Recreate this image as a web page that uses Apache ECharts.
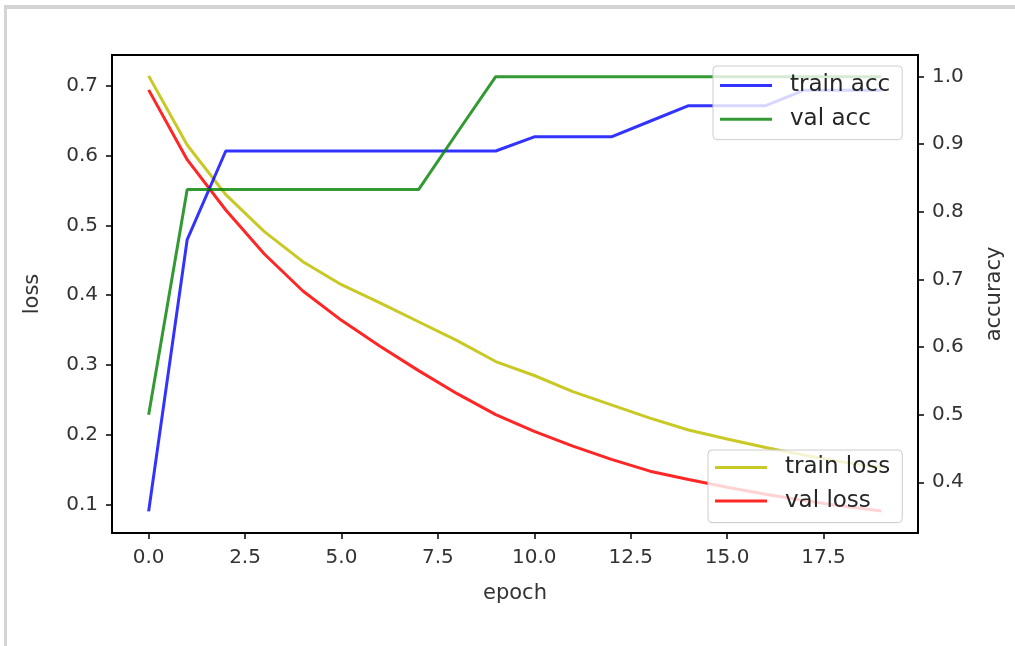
<!DOCTYPE html>
<html>
<head>
<meta charset="utf-8">
<script src="https://cdn.jsdelivr.net/npm/echarts@6/dist/echarts.min.js"></script>
<style>
  html, body { margin: 0; padding: 0; background: #fff; }
  #frame { position: absolute; left: 4px; top: 5px; width: 1015px; height: 646px;
           border-top: 4px solid #d4d4d4; border-left: 3px solid #d4d4d4; box-sizing: border-box; }
  #chart { position: absolute; left: 0; top: 0; width: 1015px; height: 646px; }
</style>
</head>
<body>
<div id="frame"></div>
<div id="chart"></div>
<script>
// ---- data ----
const epochs = [0, 1, 2, 3, 4, 5, 6, 7, 8, 9, 10, 11, 12, 13, 14, 15, 16, 17, 18, 19];
const trainLoss = [0.714, 0.615, 0.544, 0.491, 0.448, 0.415, 0.389, 0.362, 0.335, 0.305,
                   0.285, 0.262, 0.243, 0.224, 0.207, 0.194, 0.182, 0.171, 0.161, 0.153];
const valLoss = [0.694, 0.594, 0.522, 0.459, 0.406, 0.364, 0.327, 0.292, 0.259, 0.229,
                 0.205, 0.184, 0.165, 0.148, 0.136, 0.125, 0.115, 0.106, 0.098, 0.091];
const trainAcc = [0.357, 0.759, 0.890, 0.890, 0.890, 0.890, 0.890, 0.890, 0.890, 0.890,
                  0.911, 0.911, 0.911, 0.934, 0.957, 0.957, 0.957, 0.980, 0.980, 0.980];
const valAcc = [0.500, 0.833, 0.833, 0.833, 0.833, 0.833, 0.833, 0.833, 0.917, 1.000,
                1.000, 1.000, 1.000, 1.000, 1.000, 1.000, 1.000, 1.000, 1.000, 1.000];
const xTicks = [0, 2.5, 5, 7.5, 10, 12.5, 15, 17.5];
const lossTicks = [0.1, 0.2, 0.3, 0.4, 0.5, 0.6, 0.7];
const accTicks = [0.4, 0.5, 0.6, 0.7, 0.8, 0.9, 1.0];

const pairs = arr => epochs.map((e, i) => [e, arr[i]]);

const FONT = '"DejaVu Sans", sans-serif';
const axisColor = '#000';
const tickLabel = { fontFamily: FONT, fontSize: 20, color: '#333' };

const chart = echarts.init(document.getElementById('chart'), null, { renderer: 'canvas' });

const lineSeries = (name, arr, color, yIdx) => ({
  name, type: 'line', yAxisIndex: yIdx, data: pairs(arr),
  symbol: 'none', showSymbol: false, smooth: false, animation: false,
  lineStyle: { color, width: 3 }, itemStyle: { color }
});

chart.setOption({
  animation: false,
  grid: { left: 112, right: 97, top: 55, bottom: 113, show: true,
          borderColor: '#000', borderWidth: 2, containLabel: false },
  xAxis: {
    type: 'value', min: -0.95, max: 19.95,
    name: 'epoch', nameLocation: 'middle', nameGap: 50,
    nameTextStyle: { fontFamily: FONT, fontSize: 21, color: '#333' },
    axisLine: { show: true, onZero: false, lineStyle: { color: axisColor, width: 2 } },
    axisTick: { show: true, length: 6, customValues: xTicks, lineStyle: { color: axisColor, width: 1.5 } },
    axisLabel: { ...tickLabel, margin: 15, customValues: xTicks,
                 formatter: v => Number(v).toFixed(1) },
    splitLine: { show: false }
  },
  yAxis: [
    {
      type: 'value', min: 0.0595, max: 0.7439, position: 'left',
      name: 'loss', nameLocation: 'middle', nameGap: 69, nameRotate: 90,
      nameTextStyle: { fontFamily: FONT, fontSize: 21, color: '#333' },
      axisLine: { show: true, onZero: false, lineStyle: { color: axisColor, width: 2 } },
      axisTick: { show: true, length: 6, customValues: lossTicks, lineStyle: { color: axisColor, width: 1.5 } },
      axisLabel: { ...tickLabel, margin: 14, customValues: lossTicks,
                   formatter: v => Number(v).toFixed(1) },
      splitLine: { show: false }
    },
    {
      type: 'value', min: 0.325, max: 1.032, position: 'right',
      name: 'accuracy', nameLocation: 'middle', nameGap: 66, nameRotate: 90,
      nameTextStyle: { fontFamily: FONT, fontSize: 21, color: '#333' },
      axisLine: { show: true, onZero: false, lineStyle: { color: axisColor, width: 2 } },
      axisTick: { show: true, length: 6, customValues: accTicks, lineStyle: { color: axisColor, width: 1.5 } },
      axisLabel: { ...tickLabel, margin: 14, customValues: accTicks,
                   formatter: v => Number(v).toFixed(1) },
      splitLine: { show: false }
    }
  ],
  legend: [
    {
      data: ['train acc', 'val acc'], orient: 'vertical',
      left: 713, top: 66, padding: [8, 12, 9, 7], itemGap: 10.7,
      itemWidth: 52, itemHeight: 3, icon: 'rect',
      backgroundColor: 'rgba(255,255,255,0.8)', borderColor: '#cccccc', borderWidth: 1, borderRadius: 4,
      textStyle: { fontFamily: FONT, fontSize: 23, color: '#262626', lineHeight: 22, padding: [0, 0, 0, 13] },
      selectedMode: false
    },
    {
      data: ['train loss', 'val loss'], orient: 'vertical',
      left: 708, top: 450, padding: [6, 12, 10, 7], itemGap: 10.6,
      itemWidth: 52, itemHeight: 3, icon: 'rect',
      backgroundColor: 'rgba(255,255,255,0.8)', borderColor: '#cccccc', borderWidth: 1, borderRadius: 4,
      textStyle: { fontFamily: FONT, fontSize: 23, color: '#262626', lineHeight: 22, padding: [0, 0, 0, 13] },
      selectedMode: false
    }
  ],
  series: [
    lineSeries('train loss', trainLoss, 'rgba(191,191,0,0.85)', 0),
    lineSeries('val loss', valLoss, 'rgba(255,0,0,0.85)', 0),
    lineSeries('train acc', trainAcc, 'rgba(0,0,255,0.8)', 1),
    lineSeries('val acc', valAcc, 'rgba(0,128,0,0.8)', 1)
  ]
});
</script>
</body>
</html>
